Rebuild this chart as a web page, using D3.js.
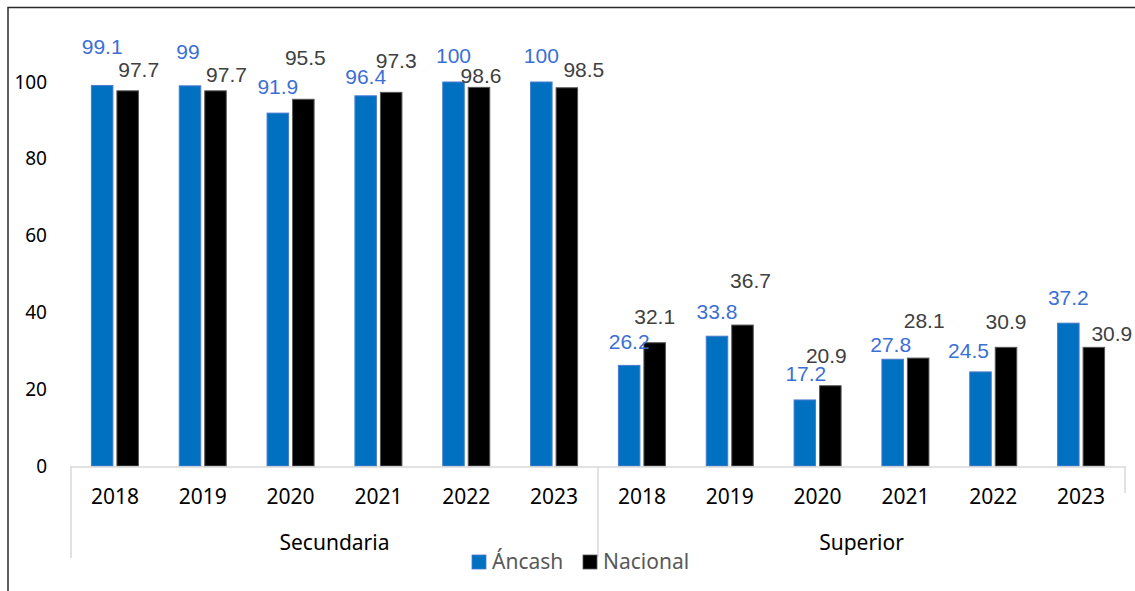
<!DOCTYPE html>
<html><head><meta charset="utf-8">
<script src="https://cdn.jsdelivr.net/npm/d3@7"></script>
<style>body{margin:0;background:#fff}svg{display:block}</style>
</head><body>
<svg id="c" width="1135" height="591"></svg>
<script>
const groups = ["Secundaria", "Superior"];
const years = ["2018", "2019", "2020", "2021", "2022", "2023"];
const seriesNames = ["Áncash", "Nacional"];
const ancash = [99.1, 99, 91.9, 96.4, 100, 100, 26.2, 33.8, 17.2, 27.8, 24.5, 37.2];
const nacional = [97.7, 97.7, 95.5, 97.3, 98.6, 98.5, 32.1, 36.7, 20.9, 28.1, 30.9, 30.9];
const yTicks = [0, 20, 40, 60, 80, 100];
// manual label nudges (dx, dy from default position), like the hand-placed labels in the original
const ancashLabelNudge = [[0,-13],[-2,-8],[0,0],[0,7],[0,0],[0,0],[0,2],[0,1],[1,0],[-2,11],[-12,5],[0,0]];
const nacionalLabelNudge = [[11,5],[11,10],[2,-16],[5,-6],[2,14],[17,8],[0,0],[8,-18],[-4,-4],[6,-11],[0,0],[18,12]];

const svg = d3.select("#c");
const cats = [];
groups.forEach(g => years.forEach(y => cats.push(g + "|" + y)));
const rows = cats.map((c, i) => ({cat: c, group: c.split("|")[0], year: c.split("|")[1], values: [ancash[i], nacional[i]], nudges: [ancashLabelNudge[i], nacionalLabelNudge[i]]}));

const x = d3.scaleBand().domain(cats).range([71, 1125]).padding(0);
const xs = d3.scaleBand().domain(seriesNames).range([0, x.bandwidth()]).paddingInner(0.157).paddingOuter(0.8);
const y = d3.scaleLinear().domain([0, 100]).range([466, 82]);
const fills = ["#0070C0", "#000000"];
const strokes = ["#4A7BD0", "#555555"];
const labelColors = ["#3C6FD6", "#404040"];

// outer chart border (partially visible)
svg.append("path").attr("d", "M8,591 V7.5 H1135").attr("fill", "none").attr("stroke", "#2a2a2a").attr("stroke-width", 1.5);

// y axis labels (no line)
svg.append("g").selectAll("text").data(yTicks).join("text")
  .attr("x", 47).attr("y", d => y(d)).attr("dy", "0.35em")
  .attr("text-anchor", "end").attr("font-family", "Noto Sans, sans-serif").attr("font-size", 19).attr("fill", "#000")
  .text(d => d);

// bars
const g = svg.append("g");
rows.forEach(r => {
  r.values.forEach((v, si) => {
    const bx = x(r.cat) + xs(seriesNames[si]);
    g.append("rect").attr("x", bx).attr("y", y(v)).attr("width", xs.bandwidth()).attr("height", y(0) - y(v))
      .attr("fill", fills[si]).attr("stroke", strokes[si]).attr("stroke-width", 1);
  });
});
// labels
rows.forEach(r => {
  r.values.forEach((v, si) => {
    const cx = x(r.cat) + xs(seriesNames[si]) + xs.bandwidth() / 2;
    svg.append("text").attr("x", cx + r.nudges[si][0]).attr("y", y(v) - 26 + r.nudges[si][1]).attr("dy", "0.35em")
      .attr("text-anchor", "middle").attr("font-family", "Liberation Sans, Arial, sans-serif").attr("font-size", 21)
      .attr("fill", labelColors[si]).text(v);
  });
});

// category axis
const ax = svg.append("g").attr("stroke", "#D9D9D9").attr("stroke-width", 1.5);
ax.append("line").attr("x1", x.range()[0]).attr("x2", x.range()[1]).attr("y1", y(0) + 1).attr("y2", y(0) + 1);
ax.append("line").attr("x1", x(cats[0])).attr("x2", x(cats[0])).attr("y1", y(0)).attr("y2", 558);
ax.append("line").attr("x1", x(cats[6])).attr("x2", x(cats[6])).attr("y1", y(0)).attr("y2", 557);
ax.append("line").attr("x1", x.range()[1]).attr("x2", x.range()[1]).attr("y1", y(0)).attr("y2", 493);

svg.append("g").selectAll("text").data(rows).join("text")
  .attr("x", d => x(d.cat) + x.bandwidth() / 2).attr("y", 497).attr("dy", "0.35em")
  .attr("text-anchor", "middle").attr("font-family", "Noto Sans, sans-serif").attr("font-size", 21).attr("fill", "#000")
  .text(d => d.year);

svg.append("g").selectAll("text").data(groups).join("text")
  .attr("x", gname => { const cs = cats.filter(c => c.startsWith(gname + "|")); return (x(cs[0]) + x(cs[cs.length-1]) + x.bandwidth()) / 2; })
  .attr("y", 543).attr("dy", "0.35em")
  .attr("text-anchor", "middle").attr("font-family", "Noto Sans, sans-serif").attr("font-size", 21).attr("fill", "#000")
  .text(d => d);

// legend
const lg = svg.append("g");
const legX = [472, 583];
seriesNames.forEach((s, i) => {
  lg.append("rect").attr("x", legX[i]).attr("y", 555).attr("width", 14).attr("height", 14).attr("fill", fills[i]).attr("stroke", strokes[i]).attr("stroke-width", 0.8);
  lg.append("text").attr("x", legX[i] + 20).attr("y", 562).attr("dy", "0.35em").attr("font-family", "Noto Sans, sans-serif").attr("font-size", 21).attr("fill", "#595959").text(s);
});
</script>
</body></html>
